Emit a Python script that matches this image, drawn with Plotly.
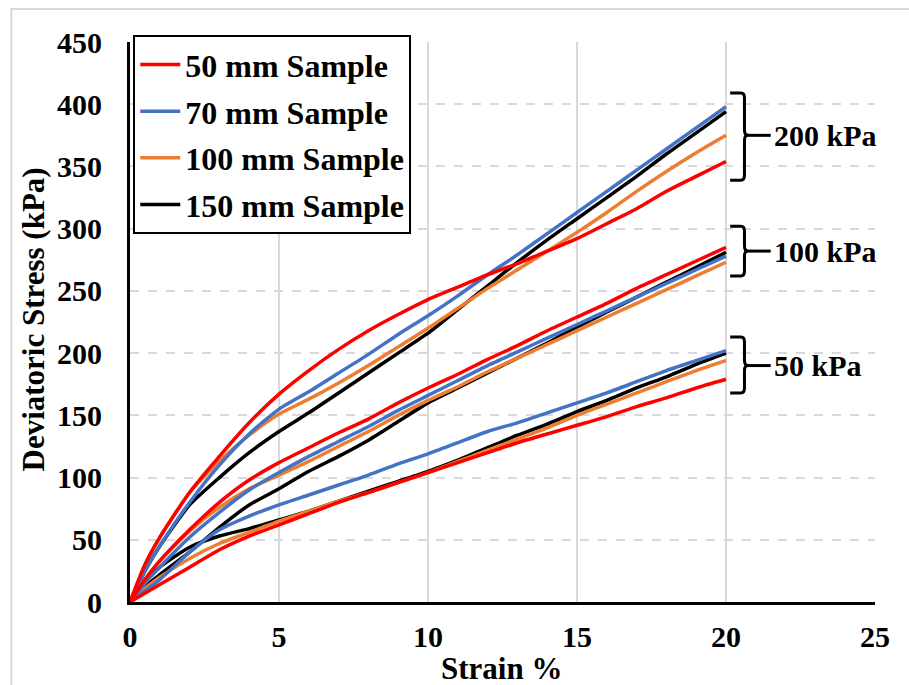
import plotly.graph_objects as go

strain = [0, 0.5, 1, 2, 3, 4, 5, 6, 7, 8, 9, 10, 11, 12, 13, 14, 15, 16, 17, 18, 19, 20]

# 200 kPa confining pressure
s200_50mm = [0, 30, 52, 88, 117, 144, 167, 186, 203, 218, 231, 243, 253, 263, 272, 282, 292, 304, 316, 330, 342, 354]
s200_70mm = [0, 25, 45, 80, 110, 135, 155, 169, 184, 199, 215, 230, 246, 263, 279, 296, 313, 330, 347, 364, 381, 398]
s200_100mm = [0, 30, 52, 88, 113, 134, 151, 163, 176, 190, 205, 220, 236, 252, 267, 282, 297, 313, 330, 346, 361, 375]
s200_150mm = [0, 25, 45, 78, 100, 120, 137, 152, 168, 184, 200, 216, 235, 254, 273, 291, 308, 325, 342, 360, 377, 394]

# 100 kPa confining pressure
s100_50mm = [0, 18, 33, 58, 80, 98, 112, 124, 136, 147, 160, 172, 183, 195, 206, 218, 229, 240, 252, 263, 274, 285]
s100_70mm = [0, 15, 28, 52, 72, 90, 104, 117, 129, 141, 154, 166, 178, 190, 201, 212, 223, 234, 245, 256, 267, 278]
s100_100mm = [0, 18, 33, 57, 76, 91, 102, 113, 125, 137, 150, 162, 173, 185, 196, 207, 218, 229, 240, 251, 262, 273]
s100_150mm = [0, 12, 22, 40, 60, 78, 91, 105, 117, 130, 145, 160, 172, 184, 196, 208, 221, 233, 245, 257, 269, 281]

# 50 kPa confining pressure
s50_50mm = [0, 7, 14, 28, 42, 53, 62, 71, 80, 88, 96, 104, 112, 120, 128, 135, 142, 149, 157, 164, 172, 179]
s50_70mm = [0, 9, 18, 40, 58, 69, 78, 86, 94, 102, 111, 119, 128, 137, 144, 152, 160, 168, 177, 186, 194, 202]
s50_100mm = [0, 11, 20, 35, 47, 56, 65, 73, 81, 88, 96, 104, 113, 122, 131, 140, 150, 159, 168, 177, 186, 194]
s50_150mm = [0, 16, 28, 44, 53, 59, 66, 73, 81, 89, 97, 105, 114, 124, 134, 143, 153, 162, 172, 181, 191, 200]

sample_names = ["50 mm Sample", "70 mm Sample", "100 mm Sample", "150 mm Sample"]
sample_colors = ["#FF0000", "#4472C4", "#ED7D31", "#000000"]
series = {
    "50 mm Sample": [s200_50mm, s100_50mm, s50_50mm],
    "70 mm Sample": [s200_70mm, s100_70mm, s50_70mm],
    "100 mm Sample": [s200_100mm, s100_100mm, s50_100mm],
    "150 mm Sample": [s200_150mm, s100_150mm, s50_150mm],
}

# bracket annotations: label, top, middle, bottom (kPa)
bracket_labels = ["200 kPa", "100 kPa", "50 kPa"]
bracket_top = [409, 302, 213]
bracket_mid = [375, 282, 190]
bracket_bot = [339, 262, 168]

FONT = "Liberation Serif"

fig = go.Figure()
draw_order = [3, 2, 1, 0]  # black, orange, blue, red on top
for idx in draw_order:
    name = sample_names[idx]
    for k, yv in enumerate(series[name]):
        fig.add_trace(go.Scatter(
            x=strain, y=yv, mode="lines", name=name,
            line=dict(color=sample_colors[idx], width=3.5, shape="spline", smoothing=0.6),
            showlegend=(k == 0), legendgroup=name, legendrank=idx + 1,
        ))

shapes = []
x0, x1, x2 = 20.14, 20.62, 21.5
for t, m, b in zip(bracket_top, bracket_mid, bracket_bot):
    d = 4
    path = (f"M {x0},{t} L {x1-0.12},{t} Q {x1},{t} {x1},{t-d} "
            f"L {x1},{m+d} Q {x1},{m} {x1+0.12},{m} Q {x1},{m} {x1},{m-d} "
            f"L {x1},{b+d} Q {x1},{b} {x1-0.12},{b} L {x0},{b}")
    shapes.append(dict(type="path", path=path, xref="x", yref="y",
                       line=dict(color="black", width=3)))
    shapes.append(dict(type="line", x0=x1 + 0.1, x1=x2, y0=m, y1=m, xref="x", yref="y",
                       line=dict(color="black", width=3)))

# outer chart border
shapes.append(dict(type="rect", xref="paper", yref="paper", x0=-0.1593, x1=1.06,
                   y0=-0.16, y1=1.059, line=dict(color="#D9D9D9", width=2), layer="below"))

annotations = []
for lab, m in zip(bracket_labels, bracket_mid):
    annotations.append(dict(x=x2 + 0.05, y=m, xref="x", yref="y", text=f"<b>{lab}</b>",
                            showarrow=False, xanchor="left", yanchor="middle",
                            font=dict(family=FONT, size=30, color="black")))
annotations.append(dict(x=-0.1298, y=0.505, xref="paper", yref="paper",
                        text="<b>Deviatoric Stress (kPa)</b>", textangle=-90,
                        showarrow=False, xanchor="center", yanchor="middle",
                        font=dict(family=FONT, size=31, color="black")))
annotations.append(dict(x=0.498, y=-0.1185, xref="paper", yref="paper",
                        text="<b>Strain %</b>", showarrow=False,
                        xanchor="center", yanchor="middle",
                        font=dict(family=FONT, size=31, color="black")))

fig.update_layout(
    width=909, height=685, autosize=False,
    margin=dict(l=130, r=34, t=42, b=83),
    paper_bgcolor="white", plot_bgcolor="white",
    font=dict(family=FONT, color="black"),
    shapes=shapes, annotations=annotations,
    legend=dict(x=0.0044, y=1.012, xanchor="left", yanchor="top",
                bgcolor="white", bordercolor="black", borderwidth=2,
                font=dict(family=FONT, size=32, color="black", weight="bold"),
                tracegroupgap=2, itemwidth=40, entrywidth=268),
    showlegend=True,
)
fig.update_xaxes(range=[0, 25], dtick=5, tick0=0, showgrid=True, gridcolor="#D9D9D9",
                 gridwidth=2, showline=True, linecolor="black", linewidth=3,
                 zeroline=False, ticks="", ticklabelstandoff=6,
                 tickfont=dict(family=FONT, size=30, color="black", weight="bold"))
fig.update_yaxes(range=[0, 450], dtick=50, tick0=0, showgrid=True, gridcolor="#D9D9D9",
                 gridwidth=2, griddash="dash", showline=True, linecolor="black", linewidth=3,
                 zeroline=False, ticks="", ticklabelstandoff=19,
                 tickfont=dict(family=FONT, size=30, color="black", weight="bold"))

fig.write_html("out.html")
